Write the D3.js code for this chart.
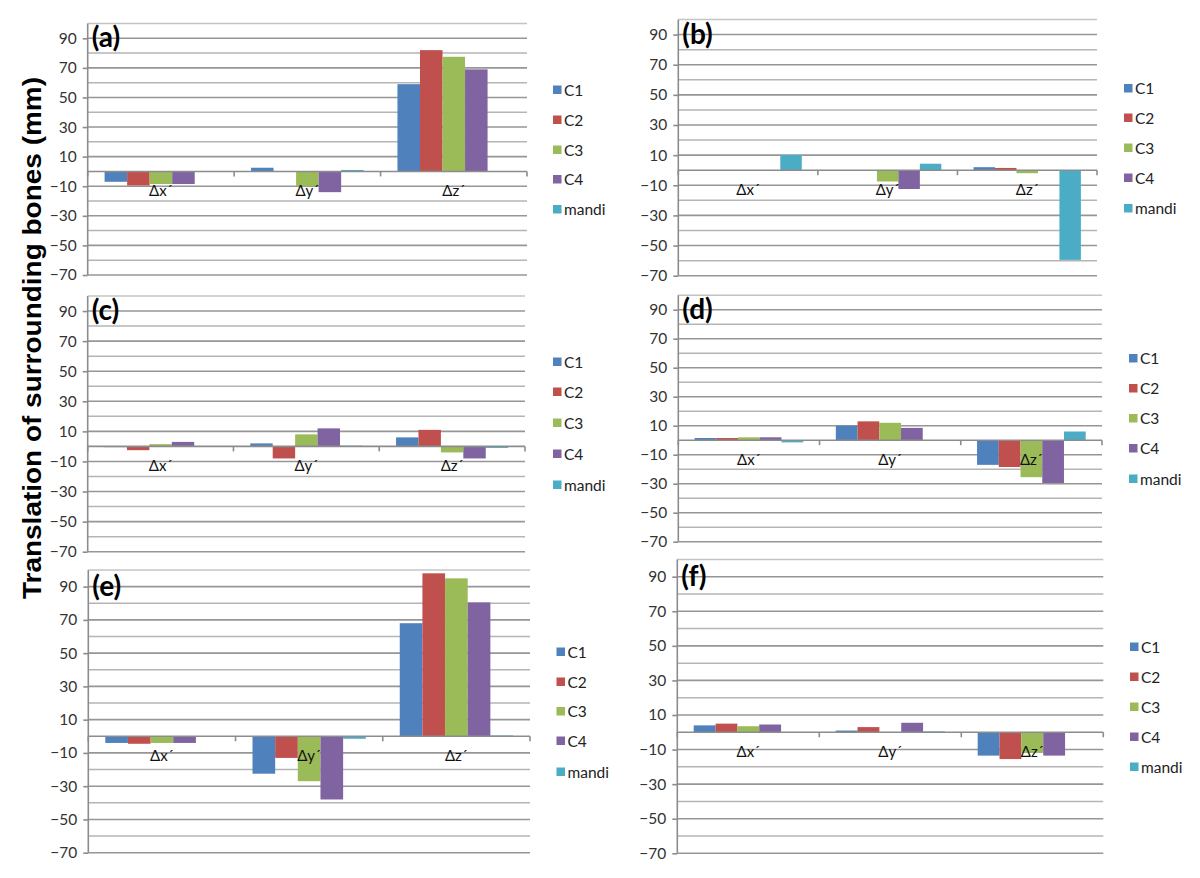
<!DOCTYPE html>
<html>
<head>
<meta charset="utf-8">
<script src="https://cdn.jsdelivr.net/npm/d3@7"></script>
<style>
  html, body { margin: 0; padding: 0; background: #fff; }
  svg { display: block; }
</style>
</head>
<body>
<svg id="chart" width="1200" height="878"></svg>
<script>
// ---------- DATA ----------
const categories = ["Δx´", "Δy´", "Δz´"];
const seriesNames = ["C1", "C2", "C3", "C4", "mandi"];
const seriesColors = ["#4F81BD", "#C0504D", "#9BBB59", "#8064A2", "#4BACC6"];
const yTickValues = [-70, -50, -30, -10, 10, 30, 50, 70, 90];
const yMinorValues = [-60, -40, -20, 0, 20, 40, 60, 80];
const yDomain = [-70, 100];
const panelLabels = ["(a)", "(b)", "(c)", "(d)", "(e)", "(f)"];
const yTitle = "Translation of surrounding bones (mm)";

// values per series: [Δx´, Δy´, Δz´]
const valuesA = [[-7, 2.5, 59], [-9.5, 0, 82], [-8.5, -10, 77.5], [-8.5, -14, 69], [0, 1, 0]];
const valuesB = [[0, 0, 2], [0, 0, 1.5], [0, -7.5, -2], [0, -12.5, 0], [10, 4.3, -59.5]];
const valuesC = [[-0.5, 2, 6], [-2.5, -8, 11], [1.5, 8, -4], [3, 12, -8], [0, 0.5, -1]];
const valuesD = [[1.5, 10, -17], [1.5, 13, -18.5], [2, 12, -25.5], [2, 8.5, -29.5], [-1.5, 0, 6]];
const valuesE = [[-4, -22.5, 68], [-4.5, -13, 98], [-4, -27, 95], [-4, -38, 80.5], [0, -1.5, 0.5]];
const valuesF = [[4, 1, -13.5], [5, 3, -15.5], [3.5, 0, -12], [4.5, 5.5, -13.5], [0, 0.5, 0]];
const panelValues = [valuesA, valuesB, valuesC, valuesD, valuesE, valuesF];

// ---------- LAYOUT ----------
const layouts = [
  { left: 87.7, right: 527, top: 23.5, bottom: 275, legX: 553, legY: [90, 120, 150, 179.5, 209.5] },
  { left: 678.3, right: 1097, top: 19.5, bottom: 275.7, legX: 1124, legY: [88.5, 118, 148, 178, 208.5] },
  { left: 87.7, right: 525, top: 296, bottom: 551.7, legX: 553, legY: [362, 392, 423, 454, 485] },
  { left: 678.3, right: 1102, top: 295.2, bottom: 541.7, legX: 1129, legY: [358.5, 388.5, 418.5, 448.5, 479] },
  { left: 88.3, right: 530, top: 570, bottom: 852.7, legX: 556.5, legY: [652, 682, 711.5, 741, 772] },
  { left: 677.3, right: 1103.3, top: 559.4, bottom: 853.3, legX: 1130, legY: [647, 677, 707, 737, 767] }
];

const svg = d3.select("#chart");
const tickFont = "Lato, 'Open Sans', sans-serif";

layouts.forEach((L, pi) => {
  const vals = panelValues[pi];
  const g = svg.append("g");
  const y = d3.scaleLinear().domain(yDomain).range([L.bottom, L.top]);
  const x0 = d3.scaleBand().domain(categories).range([L.left, L.right]).paddingInner(0).paddingOuter(0);
  const x1 = d3.scaleBand().domain(seriesNames).range([0, x0.bandwidth()]).paddingInner(0).paddingOuter(0.75);

  // top border
  g.append("line").attr("x1", L.left).attr("x2", L.right)
    .attr("y1", y(100)).attr("y2", y(100))
    .attr("stroke", "#c4c4c4").attr("stroke-width", 1.5);

  // minor gridlines
  g.selectAll(".minor").data(yMinorValues.filter(v => v !== 0)).enter().append("line")
    .attr("x1", L.left).attr("x2", L.right)
    .attr("y1", d => y(d)).attr("y2", d => y(d))
    .attr("stroke", "#b5b5b5").attr("stroke-width", 1.5);

  // major gridlines
  g.selectAll(".major").data(yTickValues).enter().append("line")
    .attr("x1", L.left).attr("x2", L.right)
    .attr("y1", d => y(d)).attr("y2", d => y(d))
    .attr("stroke", "#969696").attr("stroke-width", 1.6);

  // y axis
  const yAxis = d3.axisLeft(y).tickValues(yTickValues).tickSize(5).tickPadding(6).tickFormat(d3.format("d"));
  const ya = g.append("g").attr("transform", `translate(${L.left},0)`).call(yAxis);
  ya.select(".domain").attr("stroke", "#8c8c8c").attr("stroke-width", 1.6)
    .attr("d", `M0,${y(100)}V${y(-70)}`);
  ya.selectAll(".tick line").attr("stroke", "#8c8c8c").attr("stroke-width", 1.6);
  ya.selectAll(".tick text").attr("font-family", tickFont).attr("font-size", 15.5)
    .attr("fill", "#333");

  // bars
  seriesNames.forEach((s, si) => {
    g.selectAll(".bar" + si).data(categories.map((c, ci) => ({ c, v: vals[si][ci] })))
      .enter().append("rect")
      .attr("x", d => x0(d.c) + x1(s))
      .attr("width", x1.bandwidth())
      .attr("y", d => y(Math.max(0, d.v)))
      .attr("height", d => Math.abs(y(d.v) - y(0)))
      .attr("fill", seriesColors[si]);
  });

  // x axis at zero
  const xAxis = d3.axisBottom(x0).tickSize(0).tickFormat("");
  const xa = g.append("g").attr("transform", `translate(0,${y(0)})`).call(xAxis);
  xa.select(".domain").attr("stroke", "#8c8c8c").attr("stroke-width", 1.6)
    .attr("d", `M${L.left},0H${L.right}`);
  const boundaries = categories.map(c => x0(c)).concat([L.right]);
  g.selectAll(".ctick").data(boundaries).enter().append("line")
    .attr("x1", d => d).attr("x2", d => d)
    .attr("y1", y(0)).attr("y2", y(0) + 5)
    .attr("stroke", "#8c8c8c").attr("stroke-width", 1.6);

  // category labels
  g.selectAll(".clabel").data(categories).enter().append("text")
    .attr("x", d => x0(d) + x0.bandwidth() / 2)
    .attr("y", y(0) + 25)
    .attr("text-anchor", "middle")
    .attr("font-family", tickFont).attr("font-size", 15)
    .attr("fill", "#111")
    .text(d => d);

  // panel label
  g.append("text")
    .attr("x", L.left + 4).attr("y", y(90) + 9)
    .attr("font-family", "Lato, 'Open Sans', sans-serif").attr("font-weight", "bold")
    .attr("font-size", 28).attr("fill", "#000")
    .text(panelLabels[pi]);

  // legend
  seriesNames.forEach((s, si) => {
    g.append("rect").attr("x", L.legX).attr("y", L.legY[si] - 4.5)
      .attr("width", 8.5).attr("height", 8.5).attr("fill", seriesColors[si]);
    g.append("text").attr("x", L.legX + 11).attr("y", L.legY[si] + 5.5)
      .attr("font-family", tickFont).attr("font-size", 15.5).attr("fill", "#222")
      .text(s);
  });
});

// y-axis title
svg.append("text")
  .attr("transform", "translate(41,338) rotate(-90)")
  .attr("text-anchor", "middle")
  .attr("font-family", "'Liberation Sans', Arial, sans-serif")
  .attr("font-weight", "bold").attr("font-size", 26).attr("fill", "#000")
  .attr("textLength", 522).attr("lengthAdjust", "spacingAndGlyphs")
  .text(yTitle);
</script>
</body>
</html>
